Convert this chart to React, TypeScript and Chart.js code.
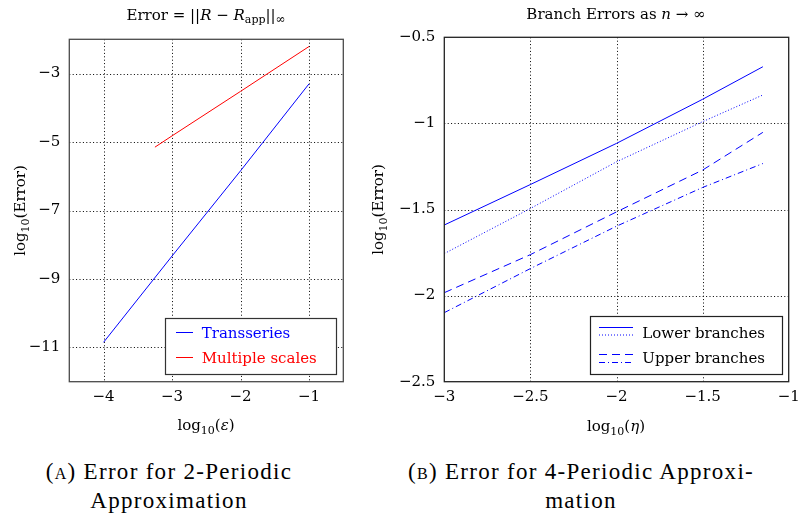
import React, { useEffect, useRef } from "react";
import { Chart, registerables } from "chart.js";
Chart.register(...registerables);

const FONT = "'DejaVu Serif', serif";

// ---- Left chart (A) data ----
const epsX = [-4, -3, -2, -1];
const transseriesY = [-10.85, -8.33, -5.84, -3.3];
const multiX = [-3.25, -3, -2, -1];
const multiY = [-5.15, -4.82, -3.52, -2.21];
const leftXTicks = [-4, -3, -2, -1];
const leftYTicks = [-11, -9, -7, -5, -3];

// ---- Right chart (B) data ----
const etaX = [-3, -2.5, -2, -1.5, -1.15];
const lowerSolid = [-1.59, -1.355, -1.116, -0.86, -0.671];
const lowerDotted = [-1.756, -1.494, -1.223, -0.99, -0.835];
const upperDashed = [-1.983, -1.762, -1.514, -1.271, -1.052];
const upperDashDot = [-2.099, -1.843, -1.597, -1.372, -1.233];
const rightXTicks = [-3, -2.5, -2, -1.5, -1];
const rightYTicks = [-2.5, -2, -1.5, -1, -0.5];

type Seg = { t: string; italic?: boolean; size?: number; dy?: number };

function drawRich(ctx: CanvasRenderingContext2D, segs: Seg[], x: number, y: number, base = 15, color = "#000") {
  const fontFor = (s: Seg) => `${s.italic ? "italic " : ""}${s.size ?? base}px ${FONT}`;
  let total = 0;
  for (const s of segs) {
    ctx.font = fontFor(s);
    total += ctx.measureText(s.t).width;
  }
  let cx = x - total / 2;
  ctx.textAlign = "left";
  ctx.textBaseline = "alphabetic";
  ctx.fillStyle = color;
  for (const s of segs) {
    ctx.font = fontFor(s);
    ctx.fillText(s.t, cx, y + (s.dy ?? 0));
    cx += ctx.measureText(s.t).width;
  }
}

function drawText(ctx: CanvasRenderingContext2D, t: string, x: number, y: number, color: string, size = 15) {
  ctx.font = `${size}px ${FONT}`;
  ctx.textAlign = "left";
  ctx.textBaseline = "alphabetic";
  ctx.fillStyle = color;
  ctx.fillText(t, x, y);
}

function seg(ctx: CanvasRenderingContext2D, x1: number, x2: number, y: number, color: string, dash: number[]) {
  ctx.save();
  ctx.strokeStyle = color;
  ctx.lineWidth = 1;
  ctx.setLineDash(dash);
  ctx.beginPath();
  ctx.moveTo(x1, y);
  ctx.lineTo(x2, y);
  ctx.stroke();
  ctx.restore();
}

const fmt = (v: number) => String(v).replace("-", "\u2212");

function makeScales(xMin: number, xMax: number, yMin: number, yMax: number, xTicks: number[], yTicks: number[], yWidth: number) {
  const pad0 = (s: any) => {
    s.paddingLeft = 0;
    s.paddingRight = 0;
    s.paddingTop = 0;
    s.paddingBottom = 0;
  };
  return {
    x: {
      type: "linear" as const,
      min: xMin,
      max: xMax,
      afterBuildTicks: (s: any) => {
        s.ticks = xTicks.map((v) => ({ value: v }));
      },
      afterFit: (s: any) => {
        s.height = 30;
        pad0(s);
      },
      grid: { display: false, drawTicks: false },
      border: { display: false },
      ticks: {
        padding: 6,
        color: "#000",
        font: { family: FONT, size: 15 },
        callback: (v: any) => fmt(v),
        autoSkip: false,
        maxRotation: 0,
      },
    },
    y: {
      type: "linear" as const,
      min: yMin,
      max: yMax,
      afterBuildTicks: (s: any) => {
        s.ticks = yTicks.map((v) => ({ value: v }));
      },
      afterFit: (s: any) => {
        s.width = yWidth;
        pad0(s);
      },
      grid: { display: false, drawTicks: false },
      border: { display: false },
      ticks: {
        padding: 9,
        color: "#000",
        font: { family: FONT, size: 15 },
        callback: (v: any) => fmt(v),
        autoSkip: false,
      },
    },
  };
}

function gridAndFrame(xTicks: number[], yTicks: number[], frameColor: string) {
  return {
    beforeDatasetsDraw(chart: any) {
      const { ctx, chartArea: a, scales } = chart;
      ctx.save();
      ctx.strokeStyle = "#000";
      ctx.lineWidth = 1;
      ctx.setLineDash([1, 2.4]);
      for (const v of xTicks) {
        const px = Math.round(scales.x.getPixelForValue(v)) + 0.5;
        if (px < a.left + 2 || px > a.right - 2) continue;
        ctx.beginPath();
        ctx.moveTo(px, a.top);
        ctx.lineTo(px, a.bottom);
        ctx.stroke();
      }
      for (const v of yTicks) {
        const py = Math.round(scales.y.getPixelForValue(v)) + 0.5;
        if (py < a.top + 2 || py > a.bottom - 2) continue;
        ctx.beginPath();
        ctx.moveTo(a.left, py);
        ctx.lineTo(a.right, py);
        ctx.stroke();
      }
      ctx.restore();
    },
    afterDatasetsDraw(chart: any) {
      const { ctx, chartArea: a } = chart;
      ctx.save();
      ctx.strokeStyle = frameColor;
      ctx.lineWidth = 1.3;
      ctx.setLineDash([]);
      ctx.strokeRect(a.left, a.top, a.right - a.left, a.bottom - a.top);
      ctx.restore();
    },
  };
}

function LeftChart() {
  const ref = useRef<HTMLCanvasElement | null>(null);
  useEffect(() => {
    const canvas = ref.current!;
    const deco = {
      id: "decoL",
      ...gridAndFrame(leftXTicks, leftYTicks, "#4a4a4a"),
      afterDraw(chart: any) {
        const ctx = chart.ctx as CanvasRenderingContext2D;
        const a = chart.chartArea;
        ctx.save();
        // title
        drawRich(ctx, [
          { t: "Error = ||" },
          { t: "R", italic: true },
          { t: " \u2212 " },
          { t: "R", italic: true },
          { t: "app", size: 11, dy: 3 },
          { t: "||" },
          { t: "\u221E", size: 12, dy: 3 },
        ], 206, 20);
        // x title
        drawRich(ctx, [
          { t: "log" },
          { t: "10", size: 11, dy: 4 },
          { t: "(" },
          { t: "\u03B5", italic: true },
          { t: ")" },
        ], 206, 430);
        // y title
        ctx.save();
        ctx.translate(25, (a.top + a.bottom) / 2);
        ctx.rotate(-Math.PI / 2);
        drawRich(ctx, [
          { t: "log" },
          { t: "10", size: 11, dy: 4 },
          { t: "(Error)" },
        ], 0, 0);
        ctx.restore();
        // legend
        ctx.fillStyle = "#fff";
        ctx.fillRect(165.5, 318.5, 171, 56);
        ctx.strokeStyle = "#333";
        ctx.lineWidth = 1.2;
        ctx.strokeRect(165.5, 318.5, 171, 56);
        seg(ctx, 176, 193, 332.5, "#0000ff", []);
        seg(ctx, 176, 193, 357.5, "#ff0000", []);
        drawText(ctx, "Transseries", 201.7, 338, "#0000ff");
        drawText(ctx, "Multiple scales", 201.7, 363, "#ff0000");
        ctx.restore();
      },
    };
    const chart = new Chart(canvas, {
      type: "line",
      data: {
        datasets: [
          {
            label: "Transseries",
            data: epsX.map((x, i) => ({ x, y: transseriesY[i] })),
            borderColor: "#0000ff",
            borderWidth: 1,
            pointRadius: 0,
            tension: 0,
          },
          {
            label: "Multiple scales",
            data: multiX.map((x, i) => ({ x, y: multiY[i] })),
            borderColor: "#ff0000",
            borderWidth: 1,
            pointRadius: 0,
            tension: 0,
          },
        ],
      },
      options: {
        animation: false,
        responsive: false,
        devicePixelRatio: 1,
        layout: { padding: { left: 0, top: 39.3, right: 11.7, bottom: 33.3 } },
        plugins: { legend: { display: false }, title: { display: false }, tooltip: { enabled: false } },
        scales: makeScales(-4.5, -0.5, -12, -2, leftXTicks, leftYTicks, 69.3) as any,
      },
      plugins: [deco],
    });
    return () => chart.destroy();
  }, []);
  return <canvas ref={ref} width={355} height={445} style={{ position: "absolute", left: 0, top: 0, width: 355, height: 445 }} />;
}

function RightChart() {
  const ref = useRef<HTMLCanvasElement | null>(null);
  useEffect(() => {
    const canvas = ref.current!;
    const deco = {
      id: "decoR",
      ...gridAndFrame(rightXTicks, rightYTicks, "#222"),
      afterDraw(chart: any) {
        const ctx = chart.ctx as CanvasRenderingContext2D;
        const a = chart.chartArea;
        ctx.save();
        drawRich(ctx, [
          { t: "Branch Errors as " },
          { t: "n", italic: true },
          { t: " \u2192 \u221E" },
        ], 261, 19);
        drawRich(ctx, [
          { t: "log" },
          { t: "10", size: 11, dy: 4 },
          { t: "(" },
          { t: "\u03B7", italic: true },
          { t: ")" },
        ], 261, 431);
        ctx.save();
        ctx.translate(27.7, (a.top + a.bottom) / 2);
        ctx.rotate(-Math.PI / 2);
        drawRich(ctx, [
          { t: "log" },
          { t: "10", size: 11, dy: 4 },
          { t: "(Error)" },
        ], 0, 0);
        ctx.restore();
        // legend
        ctx.fillStyle = "#fff";
        ctx.fillRect(235.5, 316.5, 192, 58);
        ctx.strokeStyle = "#222";
        ctx.lineWidth = 1.2;
        ctx.strokeRect(235.5, 316.5, 192, 58);
        seg(ctx, 244, 278, 327.5, "#0000ff", []);
        seg(ctx, 244, 278, 335, "#0000ff", [1, 2]);
        seg(ctx, 244, 278, 354.5, "#0000ff", [8, 5]);
        seg(ctx, 244, 278, 362.5, "#0000ff", [6, 3, 1, 3]);
        drawText(ctx, "Lower branches", 287.3, 337.7, "#000");
        drawText(ctx, "Upper branches", 287.3, 362.7, "#000");
        ctx.restore();
      },
    };
    const mk = (data: number[], dash: number[]) => ({
      data: etaX.map((x, i) => ({ x, y: data[i] })),
      borderColor: "#0000ff",
      borderWidth: 1,
      borderDash: dash,
      pointRadius: 0,
      tension: 0,
    });
    const chart = new Chart(canvas, {
      type: "line",
      data: {
        datasets: [
          { label: "Lower branches", ...mk(lowerSolid, []) },
          { label: "Lower branches (dotted)", ...mk(lowerDotted, [1, 2]) },
          { label: "Upper branches", ...mk(upperDashed, [8, 5]) },
          { label: "Upper branches (dash-dot)", ...mk(upperDashDot, [6, 3, 1, 3]) },
        ],
      },
      options: {
        animation: false,
        responsive: false,
        devicePixelRatio: 1,
        layout: { padding: { left: 0, top: 37.3, right: 9.3, bottom: 33.3 } },
        plugins: { legend: { display: false }, title: { display: false }, tooltip: { enabled: false } },
        scales: makeScales(-3, -1, -2.5, -0.5, rightXTicks, rightYTicks, 89.3) as any,
      },
      plugins: [deco],
    });
    return () => chart.destroy();
  }, []);
  return <canvas ref={ref} width={443} height={445} style={{ position: "absolute", left: 355, top: 0, width: 443, height: 445 }} />;
}

const capStyle: React.CSSProperties = {
  position: "absolute",
  width: 440,
  textAlign: "center",
  fontFamily: "'Liberation Serif', serif",
  fontSize: 23,
  lineHeight: "23px",
  letterSpacing: "1.3px",
  whiteSpace: "nowrap",
  color: "#000",
};

export default function App() {
  return (
    <div style={{ position: "fixed", left: 0, top: 0, width: 798, height: 521, background: "#fff", overflow: "hidden" }}>
      <LeftChart />
      <RightChart />
      <div style={{ ...capStyle, left: 169 - 220, top: 460 }}>
        <span style={{ fontVariant: "small-caps" }}>(a)</span> Error for 2-Periodic
      </div>
      <div style={{ ...capStyle, left: 169 - 220, top: 489 }}>Approximation</div>
      <div style={{ ...capStyle, left: 581 - 220, top: 460 }}>
        <span style={{ fontVariant: "small-caps" }}>(b)</span> Error for 4-Periodic Approxi-
      </div>
      <div style={{ ...capStyle, left: 581 - 220, top: 489 }}>mation</div>
    </div>
  );
}
